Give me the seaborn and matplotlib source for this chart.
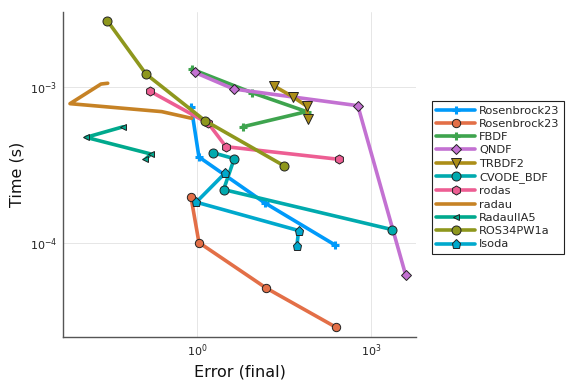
import matplotlib
matplotlib.use("Agg")
import matplotlib.pyplot as plt
import seaborn as sns
import numpy as np

sns.set_theme(style="white")
plt.rcParams['font.family'] = ['DejaVu Sans']

# ---- data (log10 values) ----
names = ["Rosenbrock23", "Rosenbrock23", "FBDF", "QNDF", "TRBDF2", "CVODE_BDF",
         "rodas", "radau", "RadauIIA5", "ROS34PW1a", "lsoda"]

ros23a_err = [-0.105, 0.029, 1.169, 2.378]
ros23a_time = [-3.125, -3.447, -3.742, -4.011]

ros23b_err = [-0.109, 0.029, 1.187, 2.390]
ros23b_time = [-3.703, -3.996, -4.287, -4.538]

fbdf_err = [-0.097, 0.950, 1.889, 0.789]
fbdf_time = [-2.883, -3.035, -3.156, -3.253]

qndf_err = [-0.045, 0.629, 2.775, 3.599]
qndf_time = [-2.904, -3.011, -3.118, -4.201]

trbdf2_err = [1.320, 1.648, 1.889, 1.912]
trbdf2_time = [-2.990, -3.060, -3.120, -3.201]

cvode_err = [0.266, 0.639, 0.456, 3.368]
cvode_time = [-3.419, -3.458, -3.656, -3.913]

rodas_err = [-0.812, 0.190, 0.496, 2.447]
rodas_time = [-3.026, -3.231, -3.381, -3.462]

radau_err = [-1.547, -1.663, -2.199, -0.615, -0.097]
radau_time = [-2.974, -2.979, -3.105, -3.156, -3.199]

radauiia5_err = [-1.278, -1.922, -0.800, -0.898]
radauiia5_time = [-3.253, -3.321, -3.428, -3.462]

ros34_err = [-1.554, -0.886, 0.133, 1.497]
ros34_time = [-2.573, -2.915, -3.214, -3.503]

lsoda_err = [0.484, -0.017, 1.751, 1.722]
lsoda_time = [-3.549, -3.737, -3.919, -4.017]

all_err = [ros23a_err, ros23b_err, fbdf_err, qndf_err, trbdf2_err, cvode_err,
           rodas_err, radau_err, radauiia5_err, ros34_err, lsoda_err]
all_time = [ros23a_time, ros23b_time, fbdf_time, qndf_time, trbdf2_time, cvode_time,
            rodas_time, radau_time, radauiia5_time, ros34_time, lsoda_time]

colors = ["#009AFA", "#E36F47", "#3EA44E", "#C371D2", "#AC8E18", "#00AAAE",
          "#ED5E93", "#C68225", "#00A98D", "#8E971D", "#00A9CD"]
markers = ["+", "o", "+", "D", "v", "o", "h", None, "<", "o", "p"]
msizes = [6, 6, 6, 5, 7, 6.5, 6.5, 0, 5, 6.5, 6.5]

fig = plt.figure(figsize=(5.76, 3.84), dpi=100)
ax = fig.add_axes([63/576, 1-336.7/384, (416-63)/576, (336.7-11.7)/384])

for name, e, t, c, m, ms in zip(names, all_err, all_time, colors, markers, msizes):
    x = 10.0 ** np.array(e)
    y = 10.0 ** np.array(t)
    kw = dict(x=x, y=y, sort=False, estimator=None, color=c, linewidth=2.6,
              label=name, ax=ax)
    if m is not None:
        if m == "+":
            kw.update(marker=m, markersize=ms, markeredgecolor=c, markeredgewidth=2.2)
        else:
            kw.update(marker=m, markersize=ms, markeredgecolor="#222222",
                      markeredgewidth=0.7)
    sns.lineplot(**kw)

ax.set_xscale("log")
ax.set_yscale("log")
ax.set_xlim(10**-2.32, 10**3.78)
ax.set_ylim(10**-4.60, 10**-2.515)
ax.set_xticks([1e0, 1e3])
ax.set_yticks([1e-4, 1e-3])
ax.minorticks_off()
ax.set_xticklabels([r"$10^{0}$", r"$10^{3}$"])
ax.set_yticklabels([r"$10^{-4}$", r"$10^{-3}$"])
ax.tick_params(axis="both", which="major", direction="in", length=3, width=0.8,
               color="#444444", labelsize=8, labelcolor="#222222", pad=4)
ax.grid(True, color="#e6e6e6", linewidth=0.7)
for s in ["top", "right"]:
    ax.spines[s].set_visible(False)
for s in ["left", "bottom"]:
    ax.spines[s].set_color("#555555")
    ax.spines[s].set_linewidth(1.0)
ax.set_xlabel("Error (final)", fontsize=11.5, color="#111111")
ax.set_ylabel("Time (s)", fontsize=11.5, color="#111111")
ax.set_facecolor("white")

leg = ax.legend(loc="upper left", bbox_to_anchor=(431.7/576, 1-101/384),
                bbox_transform=fig.transFigure, fontsize=8.2, frameon=True,
                fancybox=False, edgecolor="#222222", framealpha=1,
                handlelength=3.4, labelspacing=0.29, borderpad=0.4,
                handletextpad=0.35, borderaxespad=0)
leg.get_frame().set_linewidth(0.8)

fig.savefig("out.png", dpi=100)
